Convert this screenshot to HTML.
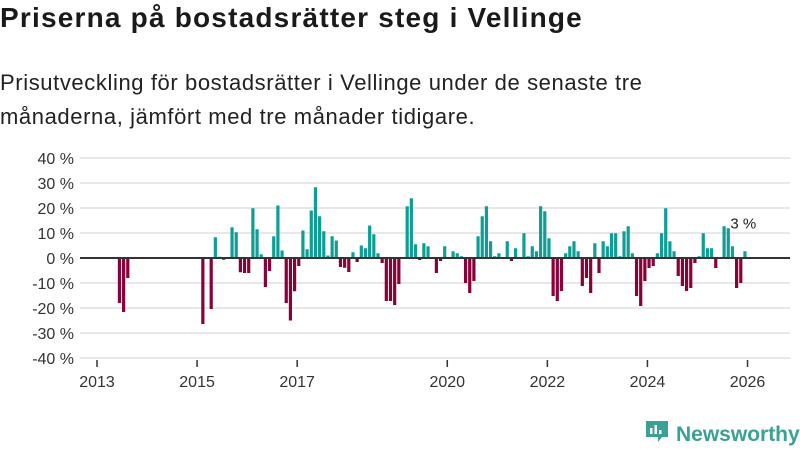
<!DOCTYPE html>
<html><head><meta charset="utf-8">
<style>
body{margin:0;background:#fff;font-family:"Liberation Sans",sans-serif;color:#1a1a1a;}
#wrap{position:relative;width:800px;height:450px;overflow:hidden;}
h1{position:absolute;left:0;top:2px;margin:0;font-size:28px;letter-spacing:1.2px;font-weight:bold;}
.sub{position:absolute;left:0;top:66px;margin:0;font-size:22px;letter-spacing:0.6px;line-height:34px;color:#222;}
svg{position:absolute;left:0;top:0;}
</style></head>
<body>
<div id="wrap">
<h1>Priserna på bostadsrätter steg i Vellinge</h1>
<p class="sub">Prisutveckling för bostadsrätter i Vellinge under de senaste tre<br>månaderna, jämfört med tre månader tidigare.</p>
<svg id="chart" width="800" height="450"></svg>
</div>
<script>
const startYear = 2013;
const yTicks = [-40,-30,-20,-10,0,10,20,30,40];
const yTickLabels = ["-40 %","-30 %","-20 %","-10 %","0 %","10 %","20 %","30 %","40 %"];
const xTickYears = [2013,2015,2017,2020,2022,2024,2026];
const values = [null,null,null,null,null,-18,-21.6,-8,
null,null,null,null,null,null,null,null,null,null,null,null,null,null,null,null,null,
-26.4,null,-20.4,8.3,0.5,-0.7,null,12.3,10.3,-5.7,-6,-6,19.9,11.5,1.5,-11.6,-5.2,8.7,21,3,-18,-25,-13.3,-3.2,11,3.5,19,28.3,16.7,10.7,1,8.7,7,-3.6,-3.9,-5.6,2.3,-1.6,5,3.9,13,9.5,1.9,-2,-17.2,-17.2,-18.8,-10.4,null,20.7,23.9,5.5,-0.8,5.9,4.7,null,-6,-1.2,4.7,null,2.7,1.9,0.7,-10,-14,-9.2,8.7,16.7,20.7,6.7,0.7,1.9,null,6.7,-1.2,3.9,null,9.9,0.7,4.7,2.7,20.7,18.7,7.9,-15.2,-17.2,-13.2,1.9,4.7,6.7,2.7,-11.2,-8,-14,5.9,-6,6.7,4.7,9.9,9.9,0.7,10.7,12.7,1.9,-15.2,-19.2,-9.2,-4,-3.2,1.9,9.9,19.9,6.7,2.7,-7.2,-11.2,-13.2,-12,-2,0.7,9.9,3.9,3.9,-4,null,12.7,11.9,4.7,-12,-10,2.7];
const lastLabel = "3 %";

const NS="http://www.w3.org/2000/svg";
const svg=document.getElementById('chart');
const X0=97, PX_YEAR=50.04;
function xMonth(m){return X0+m*PX_YEAR/12;}
function xYear(y){return X0+(y-startYear)*PX_YEAR;}
function yVal(v){return 258-v*2.5;}
function mk(t,a){const e=document.createElementNS(NS,t);for(const k in a)e.setAttribute(k,a[k]);svg.appendChild(e);return e;}

yTicks.forEach((v,i)=>{
  const g=mk('line',{x1:80,x2:790,y1:yVal(v),y2:yVal(v),stroke:'#e0e0e0','stroke-width':1.5});
  
  
  const t=mk('text',{x:74,y:yVal(v)+6,'text-anchor':'end','font-size':16,fill:'#333','font-family':'Liberation Sans, sans-serif'});
  t.textContent=yTickLabels[i];
  
  
});
xTickYears.forEach(y=>{
  const tk=mk('line',{x1:xYear(y),x2:xYear(y),y1:360,y2:367,stroke:'#333','stroke-width':1.5});
  
  
  const t=mk('text',{x:xYear(y),y:387,'text-anchor':'middle','font-size':16,fill:'#333','font-family':'Liberation Sans, sans-serif'});
  t.textContent=y;
  
  
});
values.forEach((v,m)=>{
  if(v===null)return;
  const y0=yVal(0),y1=yVal(v);
  const r=mk('rect',{x:xMonth(m),y:Math.min(y0,y1),width:3.2,height:Math.max(0.6,Math.abs(y1-y0)),fill:v>=0?'#0f9e95':'#8c0039'});
  
  
});
const z=mk('line',{x1:80,x2:790,y1:yVal(0),y2:yVal(0),stroke:'#333','stroke-width':2});


const lm=values.length-1;
const lb=mk('text',{x:xMonth(lm)-13,y:yVal(values[lm])-23,'font-size':15,fill:'#222','font-family':'Liberation Sans, sans-serif',stroke:'#fff','stroke-width':3,'paint-order':'stroke'});
lb.textContent=lastLabel;



const lg=document.createElementNS(NS,'g');


svg.appendChild(lg);
lg.innerHTML='<path d="M646 421 h22 v16 h-6 l-4 5 v-5 h-12 z" fill="#3aa197"/><rect x="650" y="428" width="2.5" height="6" fill="#fff"/><rect x="654.5" y="425" width="2.5" height="9" fill="#fff"/><rect x="659" y="430" width="2.5" height="4" fill="#fff"/><text x="676" y="441" font-size="21" font-weight="bold" fill="#3aa197" font-family="Liberation Sans, sans-serif">Newsworthy</text>';
</script>
</body></html>
